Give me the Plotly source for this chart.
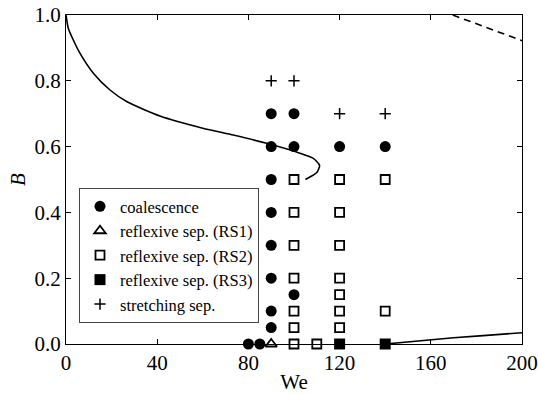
import plotly.graph_objects as go

# --- data ---
coal_x = [90, 90, 90, 90, 90, 90, 90, 90, 100, 100, 100, 120, 140, 80, 85]
coal_y = [0.7, 0.6, 0.5, 0.4, 0.3, 0.2, 0.1, 0.05, 0.7, 0.6, 0.15, 0.6, 0.6, 0.0, 0.0]

rs1_x = [90]
rs1_y = [0.0]

rs2_x = [100, 100, 100, 100, 100, 100, 100, 110,
         120, 120, 120, 120, 120, 120, 120, 140, 140]
rs2_y = [0.5, 0.4, 0.3, 0.2, 0.1, 0.05, 0.0, 0.0,
         0.5, 0.4, 0.3, 0.2, 0.15, 0.1, 0.05, 0.5, 0.1]

rs3_x = [120, 140]
rs3_y = [0.0, 0.0]

str_x = [90, 100, 120, 140]
str_y = [0.8, 0.8, 0.7, 0.7]

# boundary curves
upper_x = [0, 1, 3.2, 6.1, 12, 19.3, 26.6, 41.2, 60, 73.4, 88, 102.6, 108.5, 111.2, 110, 105]
upper_y = [1.0, 0.96, 0.924, 0.884, 0.823, 0.772, 0.737, 0.693, 0.656, 0.635, 0.61, 0.58, 0.564, 0.543, 0.521, 0.5]

lower_x = [140, 150, 160, 170, 180, 190, 200]
lower_y = [0.0, 0.007, 0.013, 0.019, 0.024, 0.029, 0.034]

dash_x = [169.6, 185, 200]
dash_y = [1.0, 0.96, 0.922]

x_ticks = [0, 40, 80, 120, 160, 200]
y_ticks = [0.0, 0.2, 0.4, 0.6, 0.8, 1.0]

SERIF = "Liberation Serif, Times New Roman, serif"

fig = go.Figure()

fig.add_trace(go.Scatter(x=upper_x, y=upper_y, mode="lines",
                         line=dict(color="black", width=1.6, shape="spline", smoothing=0.6),
                         showlegend=False, hoverinfo="skip"))
fig.add_trace(go.Scatter(x=lower_x, y=lower_y, mode="lines",
                         line=dict(color="black", width=1.6),
                         showlegend=False, hoverinfo="skip"))
fig.add_trace(go.Scatter(x=dash_x, y=dash_y, mode="lines",
                         line=dict(color="black", width=1.6, dash="7px,5px"),
                         showlegend=False, hoverinfo="skip"))

fig.add_trace(go.Scatter(x=coal_x, y=coal_y, mode="markers", name="coalescence",
                         marker=dict(symbol="circle", size=11, color="black"),
                         cliponaxis=False))
fig.add_trace(go.Scatter(x=rs1_x, y=rs1_y, mode="markers", name="reflexive sep. (RS1)",
                         marker=dict(symbol="triangle-up-open", size=10, color="black",
                                     line=dict(width=1.8, color="black")),
                         cliponaxis=False))
fig.add_trace(go.Scatter(x=rs2_x, y=rs2_y, mode="markers", name="reflexive sep. (RS2)",
                         marker=dict(symbol="square-open", size=9, color="black",
                                     line=dict(width=1.8, color="black")),
                         cliponaxis=False))
fig.add_trace(go.Scatter(x=rs3_x, y=rs3_y, mode="markers", name="reflexive sep. (RS3)",
                         marker=dict(symbol="square", size=11, color="black"),
                         cliponaxis=False))
fig.add_trace(go.Scatter(x=str_x, y=str_y, mode="markers", name="stretching sep.",
                         marker=dict(symbol="cross-thin-open", size=8, color="black",
                                     line=dict(width=1.5, color="black")),
                         cliponaxis=False))

axis_common = dict(showline=True, linecolor="black", linewidth=1, mirror="ticks",
                   ticks="inside", ticklen=5, tickcolor="black", tickwidth=1,
                   showgrid=False, zeroline=False, automargin=False,
                   tickfont=dict(family=SERIF, size=21, color="black"))

fig.update_xaxes(range=[0, 200], tickvals=x_ticks, ticktext=[str(v) for v in x_ticks],
                 title=dict(text="We", font=dict(family=SERIF, size=21, color="black"), standoff=11),
                 **axis_common)
fig.update_yaxes(range=[0, 1], tickvals=y_ticks, ticktext=[f"{v:.1f}" for v in y_ticks],
                 title=dict(text="<i>B</i>", font=dict(family=SERIF, size=21, color="black"), standoff=3),
                 **axis_common)

fig.update_layout(
    width=538, height=394,
    margin=dict(l=66, r=16, t=15, b=50, autoexpand=False),
    paper_bgcolor="white", plot_bgcolor="white",
    font=dict(family=SERIF, color="black"),
    legend=dict(x=0.0285, y=0.474, xanchor="left", yanchor="top",
                bordercolor="#444", borderwidth=1, bgcolor="white",
                font=dict(family=SERIF, size=16.5, color="black"),
                itemwidth=30, tracegroupgap=0),
)

fig.write_html("out.html")
